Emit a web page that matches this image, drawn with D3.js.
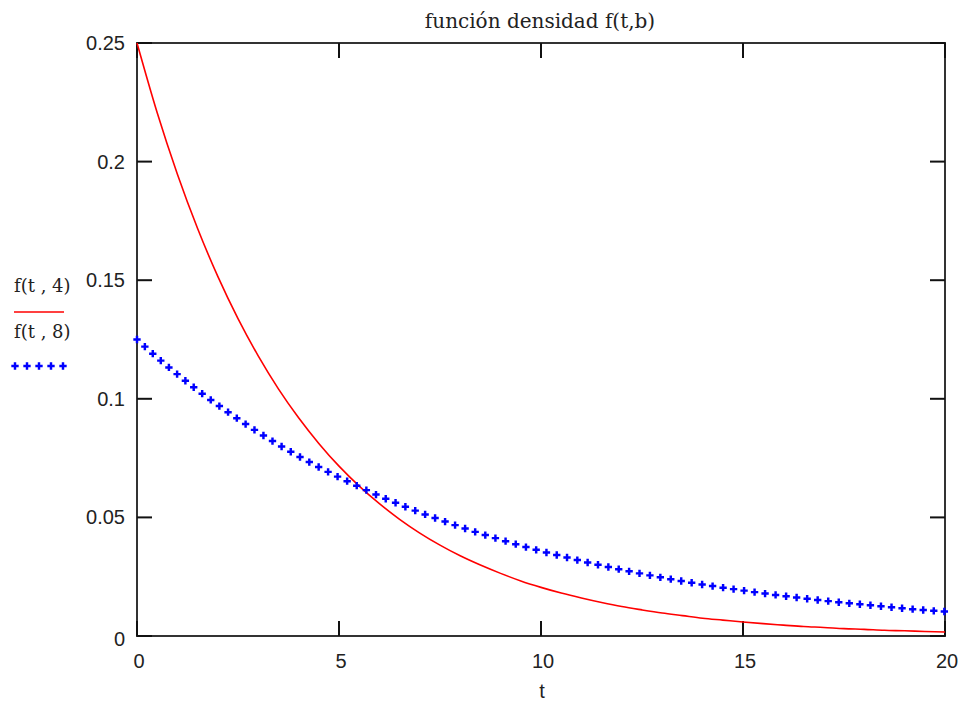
<!DOCTYPE html>
<html>
<head>
<meta charset="utf-8">
<script src="https://cdn.jsdelivr.net/npm/d3@7"></script>
<style>
  html, body { margin: 0; padding: 0; background: #fff; }
  svg { display: block; }
</style>
</head>
<body>
<svg id="chart" width="964" height="711"></svg>
<script>
// Exponential density f(t,b) sampled at t = 0, 0.5, ..., 20
const tValues = d3.range(0, 20.0001, 0.5);
const seriesB4 = [0.2500, 0.2206, 0.1947, 0.1718, 0.1516, 0.1338, 0.1181, 0.1042, 0.0920, 0.0812,
  0.0716, 0.0632, 0.0558, 0.0492, 0.0434, 0.0383, 0.0338, 0.0299, 0.0264, 0.0232,
  0.0205, 0.0181, 0.0160, 0.0141, 0.0124, 0.0110, 0.0097, 0.0086, 0.0075, 0.0067,
  0.0059, 0.0052, 0.0046, 0.0040, 0.0036, 0.0031, 0.0028, 0.0024, 0.0022, 0.0019, 0.0017];
const seriesB8 = [0.1250, 0.1174, 0.1103, 0.1036, 0.0974, 0.0915, 0.0859, 0.0807, 0.0758, 0.0712,
  0.0669, 0.0629, 0.0590, 0.0555, 0.0521, 0.0490, 0.0460, 0.0432, 0.0406, 0.0381,
  0.0358, 0.0337, 0.0316, 0.0297, 0.0279, 0.0262, 0.0246, 0.0231, 0.0217, 0.0204,
  0.0192, 0.0180, 0.0169, 0.0159, 0.0149, 0.0140, 0.0132, 0.0124, 0.0116, 0.0109, 0.0103];
const xTicks = [0, 5, 10, 15, 20];
const yTicks = [0, 0.05, 0.1, 0.15, 0.2, 0.25];
const yTickLabels = ["0", "0.05", "0.1", "0.15", "0.2", "0.25"];
const legendLabels = ["f(t , 4)", "f(t , 8)"];
const titleText = "función densidad f(t,b)";
const xLabel = "t";

const svg = d3.select("#chart");
const plotL = 137, plotR = 945, plotT = 43, plotB = 636;

const x = d3.scaleLinear().domain([0, 20]).range([plotL, plotR]);
const y = d3.scaleLinear().domain([0, 0.25]).range([plotB, plotT]);

const axisColor = "#333";
const sans = "'Liberation Sans', Arial, sans-serif";
const serif = "'DejaVu Serif', 'Liberation Serif', serif";

// Frame
svg.append("rect")
  .attr("x", plotL).attr("y", plotT)
  .attr("width", plotR - plotL).attr("height", plotB - plotT)
  .attr("fill", "none").attr("stroke", axisColor).attr("stroke-width", 2);

// Inward ticks on all four sides
const tickLen = 15;
const ticks = svg.append("g").attr("stroke", "#111").attr("stroke-width", 2);
xTicks.forEach(v => {
  ticks.append("line").attr("x1", x(v)).attr("x2", x(v)).attr("y1", plotB).attr("y2", plotB - tickLen);
  ticks.append("line").attr("x1", x(v)).attr("x2", x(v)).attr("y1", plotT).attr("y2", plotT + tickLen);
});
yTicks.forEach(v => {
  ticks.append("line").attr("x1", plotL).attr("x2", plotL + tickLen).attr("y1", y(v)).attr("y2", y(v));
  ticks.append("line").attr("x1", plotR).attr("x2", plotR - tickLen).attr("y1", y(v)).attr("y2", y(v));
});

// Tick labels
svg.append("g").selectAll("text").data(xTicks).join("text")
  .attr("x", d => x(d) + 2).attr("y", 668)
  .attr("text-anchor", "middle")
  .attr("font-family", sans).attr("font-size", 20).attr("fill", "#222")
  .text(d => d);
svg.append("g").selectAll("text").data(yTicks).join("text")
  .attr("x", 125).attr("y", (d, i) => y(d) + 7 + (i === 0 ? 3 : 0))
  .attr("text-anchor", "end")
  .attr("font-family", sans).attr("font-size", 20).attr("fill", "#222")
  .text((d, i) => yTickLabels[i]);

// Title and axis label
svg.append("text").attr("x", 540).attr("y", 28)
  .attr("text-anchor", "middle").attr("font-family", serif).attr("font-size", 20).attr("fill", "#222")
  .text(titleText);
svg.append("text").attr("x", 542).attr("y", 698)
  .attr("text-anchor", "middle").attr("font-family", sans).attr("font-size", 20).attr("fill", "#222")
  .text(xLabel);

// Curves
const line = d3.line().x((d, i) => x(tValues[i])).y(d => y(d)).curve(d3.curveMonotoneX);

svg.append("path").datum(seriesB4)
  .attr("d", line).attr("fill", "none").attr("stroke", "#ff0000").attr("stroke-width", 1.6);

// Dotted curve: cross markers placed at even spacing along the path
const guide = svg.append("path").datum(seriesB8)
  .attr("d", line).attr("fill", "none").attr("stroke", "none");
const node = guide.node();
const total = node.getTotalLength();
const spacing = 10.6;
const dotPts = d3.range(0, total + 0.1, spacing).map(l => node.getPointAtLength(l));
const cross = d3.symbol().type(d3.symbolCross).size(30);
svg.append("g").selectAll("path").data(dotPts).join("path")
  .attr("transform", p => `translate(${p.x},${p.y})`)
  .attr("d", cross).attr("fill", "#0000ff");

// Legend
svg.append("text").attr("x", 14).attr("y", 292)
  .attr("font-family", serif).attr("font-size", 18).attr("fill", "#222")
  .text(legendLabels[0]);
svg.append("line").attr("x1", 14).attr("x2", 64).attr("y1", 312).attr("y2", 312)
  .attr("stroke", "#ff0000").attr("stroke-width", 1.6);
svg.append("text").attr("x", 14).attr("y", 338)
  .attr("font-family", serif).attr("font-size", 18).attr("fill", "#222")
  .text(legendLabels[1]);
svg.append("g").selectAll("path").data(d3.range(5)).join("path")
  .attr("transform", i => `translate(${15 + i * 12},366)`)
  .attr("d", cross).attr("fill", "#0000ff");
</script>
</body>
</html>
